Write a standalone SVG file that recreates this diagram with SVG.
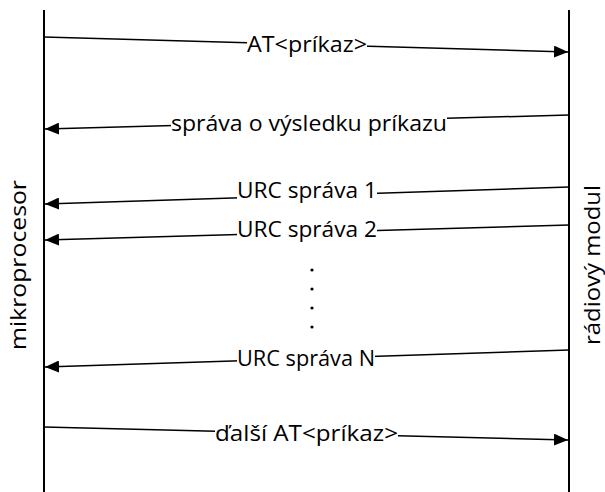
<svg xmlns="http://www.w3.org/2000/svg" width="605" height="492" viewBox="0 0 605 492">
<style>
.life{stroke:#000;stroke-width:2;fill:none}
.msg{stroke:#000;stroke-width:1.5;fill:none;marker-end:url(#ah)}
.lbl{font-family:"Open Sans","Liberation Sans",sans-serif;font-size:21px;fill:#000;dominant-baseline:central}
.bg{fill:#fff}
.side{font-family:"Open Sans","Liberation Sans",sans-serif;font-size:22px;fill:#000;dominant-baseline:central}
</style>
<defs>
<marker id="ah" viewBox="0 0 14 12" refX="14" refY="6" markerWidth="14" markerHeight="12" markerUnits="userSpaceOnUse" orient="auto">
<path d="M0,0 L14,6 L0,12 Z" fill="#000"/>
</marker>
</defs>
<g id="mikroprocesor">
<line class="life" x1="44" y1="10" x2="44" y2="492"/>
<text class="side" transform="translate(17,350) rotate(-90)" textLength="170" lengthAdjust="spacingAndGlyphs">mikroprocesor</text>
</g>
<g id="radiovy-modul">
<line class="life" x1="569" y1="10" x2="569" y2="492"/>
<text class="side" transform="translate(591,345) rotate(-90)" textLength="160" lengthAdjust="spacingAndGlyphs">rádiový modul</text>
</g>
<g id="connectors">
<line class="msg" x1="44" y1="37" x2="568" y2="52"/>
<rect class="bg" x="247" y="34" width="120" height="22"/>
<text class="lbl" x="247" y="44" textLength="120" lengthAdjust="spacingAndGlyphs">AT&lt;príkaz&gt;</text>

<line class="msg" x1="569" y1="115" x2="45" y2="129"/>
<rect class="bg" x="171" y="112" width="276" height="24"/>
<text class="lbl" x="171" y="123" textLength="276" lengthAdjust="spacingAndGlyphs">správa o výsledku príkazu</text>

<line class="msg" x1="569" y1="187" x2="45" y2="204"/>
<rect class="bg" x="237" y="179" width="140" height="24"/>
<text class="lbl" x="237" y="190" textLength="140" lengthAdjust="spacingAndGlyphs">URC správa 1</text>

<line class="msg" x1="569" y1="225" x2="45" y2="240"/>
<rect class="bg" x="237" y="218" width="140" height="24"/>
<text class="lbl" x="237" y="229" textLength="140" lengthAdjust="spacingAndGlyphs">URC správa 2</text>

<g id="dots" fill="#000">
<circle cx="312" cy="270" r="1.6"/>
<circle cx="312" cy="289" r="1.6"/>
<circle cx="312" cy="308" r="1.6"/>
<circle cx="312" cy="327" r="1.6"/>
</g>

<line class="msg" x1="569" y1="350" x2="45" y2="367"/>
<rect class="bg" x="237" y="347" width="138" height="24"/>
<text class="lbl" x="237" y="358" textLength="138" lengthAdjust="spacingAndGlyphs">URC správa N</text>

<line class="msg" x1="44" y1="427" x2="568" y2="440"/>
<rect class="bg" x="215" y="422" width="183" height="24"/>
<text class="lbl" x="215" y="433" textLength="183" lengthAdjust="spacingAndGlyphs">ďalší AT&lt;príkaz&gt;</text>
</g>
</svg>
